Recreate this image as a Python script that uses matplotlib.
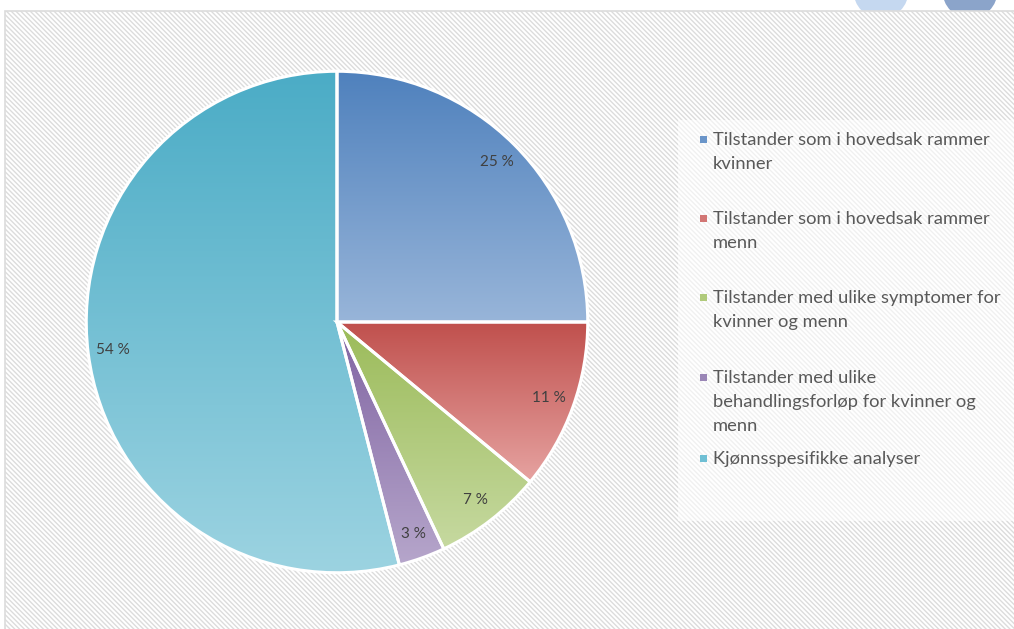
import matplotlib
matplotlib.use('Agg')
import matplotlib.pyplot as plt
import numpy as np
from matplotlib.patches import Rectangle, Circle
from matplotlib.colors import to_rgb

categories = [
    'Tilstander som i hovedsak rammer\nkvinner',
    'Tilstander som i hovedsak rammer\nmenn',
    'Tilstander med ulike symptomer for\nkvinner og menn',
    'Tilstander med ulike\nbehandlingsforløp for kvinner og\nmenn',
    'Kjønnsspesifikke analyser',
]
values = [25, 11, 7, 3, 54]
pct_labels = ['25 %', '11 %', '7 %', '3 %', '54 %']

# top (dark) and bottom (light) colour of each slice gradient
top_colors = ['#4f81bd', '#c0504d', '#9bbb59', '#8064a2', '#4bacc6']
bottom_colors = ['#98b5d9', '#e6a3a1', '#c6d9a0', '#b6a6cb', '#9cd3e1']
marker_colors = ['#6a95c9', '#d27674', '#b0ca7b', '#9a86b6', '#6fbfd4']

W, H = 1014, 629
plt.rcParams['hatch.linewidth'] = 1.0
plt.rcParams['font.family'] = ['Lato', 'DejaVu Sans']

fig = plt.figure(figsize=(W / 100, H / 100), dpi=100, facecolor='white')

# background in pixel coordinates
bg = fig.add_axes([0, 0, 1, 1])
bg.set_xlim(0, W)
bg.set_ylim(H, 0)
bg.axis('off')

# window buttons peeking in at the top
bg.add_patch(Circle((881, -9), 27.5, facecolor='#c5d8f0', edgecolor='none', zorder=1))
bg.add_patch(Circle((970, -9), 27.5, facecolor='#8ba4ca', edgecolor='none', zorder=1))

# hatched chart area
bg.add_patch(Rectangle((5, 11), W + 10, H + 10, facecolor='white',
                       edgecolor='#dcdcdc', hatch='\\' * 7, linewidth=1.2, zorder=2))

# legend box
bg.add_patch(Rectangle((678, 120), W, 401, facecolor='white', alpha=0.6,
                       edgecolor='none', zorder=3))

line_h = 24
entry_y = [140, 219, 298, 378, 459]
for cat, col, y in zip(categories, marker_colors, entry_y):
    bg.add_patch(Rectangle((700, y - 4), 7, 7, facecolor=col, edgecolor='none', zorder=4))
    for k, line in enumerate(cat.split('\n')):
        bg.text(713, y + k * line_h, line, fontsize=13.2, color='#595959',
                va='center', ha='left', zorder=5)

# pie
cx, cy, r = 337, 322, 252
ax = fig.add_axes([(cx - r) / W, (H - cy - r) / H, 2 * r / W, 2 * r / H])
ax.patch.set_alpha(0)
wedges, _ = ax.pie(values, startangle=90, counterclock=False,
                   colors=['none'] * len(values),
                   wedgeprops=dict(edgecolor='white', linewidth=2.2))

for w, c0, c1 in zip(wedges, top_colors, bottom_colors):
    w.set_zorder(3)
    path = w.get_path().transformed(w.get_patch_transform())
    ext = path.get_extents()
    a = np.array(to_rgb(c0))
    b = np.array(to_rgb(c1))
    t = np.linspace(0, 1, 256)[:, None, None]
    grad = a[None, None, :] * (1 - t) + b[None, None, :] * t
    im = ax.imshow(grad, extent=[ext.x0, ext.x1, ext.y0, ext.y1], origin='upper',
                   aspect='auto', zorder=2, interpolation='bilinear')
    im.set_clip_path(w)

theta = 90
for v, lab in zip(values, pct_labels):
    mid = np.deg2rad(theta - v * 3.6 / 2)
    theta -= v * 3.6
    ax.text(0.9 * np.cos(mid), 0.9 * np.sin(mid), lab, fontsize=11, color='#404040',
            ha='center', va='center', zorder=4)

ax.set_xlim(-1.005, 1.005)
ax.set_ylim(-1.005, 1.005)
ax.set_aspect('auto')
ax.axis('off')

fig.savefig('out.png', dpi=100, facecolor='white')
